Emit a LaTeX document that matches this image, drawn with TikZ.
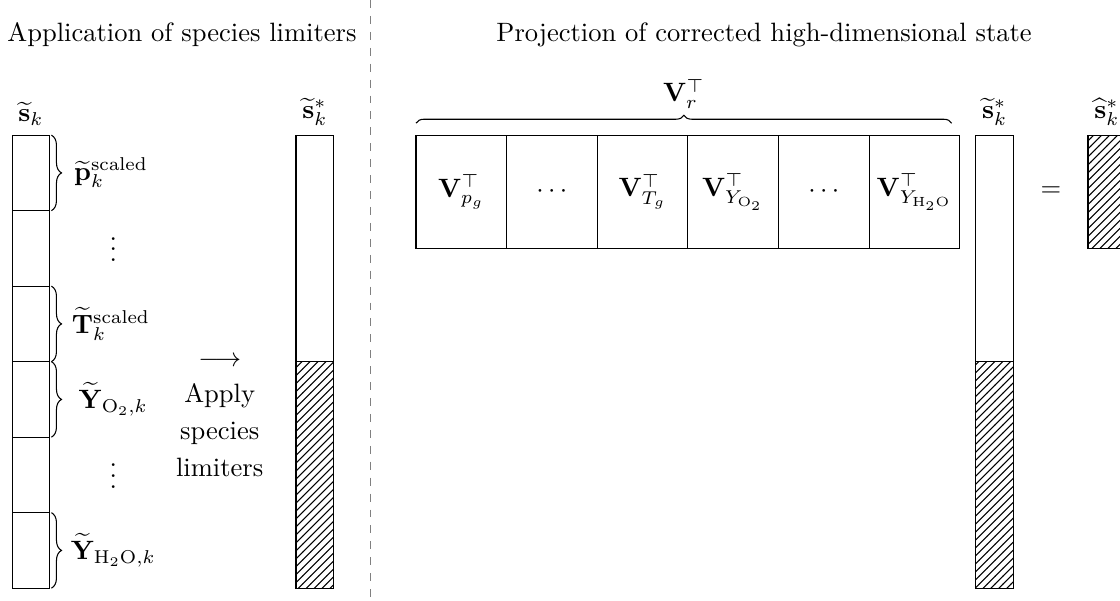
\documentclass[tikz,border=0pt]{standalone}
\usepackage{tikz}
\usetikzlibrary{patterns}
\usetikzlibrary{decorations.pathreplacing}
\definecolor{divgray}{RGB}{128,128,128}
\newcommand{\drawbrace}{\draw[decorate, decoration={brace, amplitude=3.8pt, raise=0.6pt}]}

\begin{document}
\begin{tikzpicture}[
    cell/.style={draw, minimum width=0.5cm, minimum height=1cm, inner sep=0pt, outer sep=0pt},
    bar/.style={draw, minimum width=0.5cm, minimum height=3cm, inner sep=0pt, outer sep=0pt},
    vbox/.style={draw, minimum width=1.2cm, minimum height=1.5cm, inner sep=0pt, outer sep=0pt},
    hatched/.style={pattern=north east lines}
]
    \useasboundingbox (0,0) rectangle (14.834,-7.947);

    % Titles
    \node (title1) at (2.41,-0.46) {Application of species limiters};
    \node (title2) at (10.12,-0.46) {Projection of corrected high-dimensional state};

    % Divider
    \draw[divgray, dashed] (4.91,0) -- (4.91,-7.95);

    % Draw state vector
    \foreach \i in {1,...,6} {
        \node[cell] (c\i) at (0.41, -1.29-\i) {};
    }
    \node[above] (sk) at (c1.north) {$\widetilde{\mathbf{s}}_k$};

    % Braces and entries
    \foreach \i in {1,3,4,6} {
        \drawbrace (c\i.north east) -- (c\i.south east);
    }
    \node (lp) at (1.47,-2.29) {$\widetilde{\mathbf{p}}_k^{\mathrm{scaled}}$};
    \node (dots1) at (1.5,-3.2) {$\vdots$};
    \node (lT) at (1.47,-4.29) {$\widetilde{\mathbf{T}}_k^{\mathrm{scaled}}$};
    \node (lO) at (1.5,-5.29) {$\widetilde{\mathbf{Y}}_{\mathrm{O}_2,k}$};
    \node (dots2) at (1.5,-6.2) {$\vdots$};
    \node (lH) at (1.5,-7.29) {$\widetilde{\mathbf{Y}}_{\mathrm{H}_2\mathrm{O},k}$};

    % Limiter step
    \node[align=center] (apply) at (2.91,-5.52) {$\longrightarrow$\\[1.5pt]Apply\\[2pt]species\\[2pt]limiters};

    % Limited state
    \node[bar] (sup) at (4.17,-3.29) {};
    \node[bar, hatched] (slo) at (4.17,-6.29) {};
    \node[above] (sks) at (sup.north) {$\widetilde{\mathbf{s}}_k^*$};

    % Basis blocks
    \foreach \lbl [count=\i] in {{$\mathbf{V}_{p_g}^\top$}, {$\cdots$}, {$\mathbf{V}_{T_g}^\top$}, {$\mathbf{V}_{Y_{\mathrm{O}_2}}^\top$}, {$\cdots$}, {$\mathbf{V}_{Y_{\mathrm{H}_2\mathrm{O}}}^\top$}} {
        \node[vbox] (v\i) at (4.91+1.2*\i, -2.54) {\lbl};
    }
    \draw[decorate, decoration={brace, amplitude=3pt}] ([yshift=4.5pt]v1.north west) -- ([xshift=-3pt, yshift=4.5pt]v6.north east) node[midway, above=2pt] (Vr) {$\mathbf{V}_r^\top$};

    % Corrected state and result
    \node[bar] (sup2) at (13.175,-3.29) {};
    \node[bar, hatched] (slo2) at (13.175,-6.29) {};
    \node[above] (sks2) at (sup2.north) {$\widetilde{\mathbf{s}}_k^*$};
    \node (eq) at (13.92,-2.54) {$=$};
    \node[vbox, minimum width=0.5cm, hatched] (shat) at (14.66,-2.54) {};
    \node[above] (shk) at (shat.north) {$\widehat{\mathbf{s}}_k^*$};
\end{tikzpicture}
\end{document}
